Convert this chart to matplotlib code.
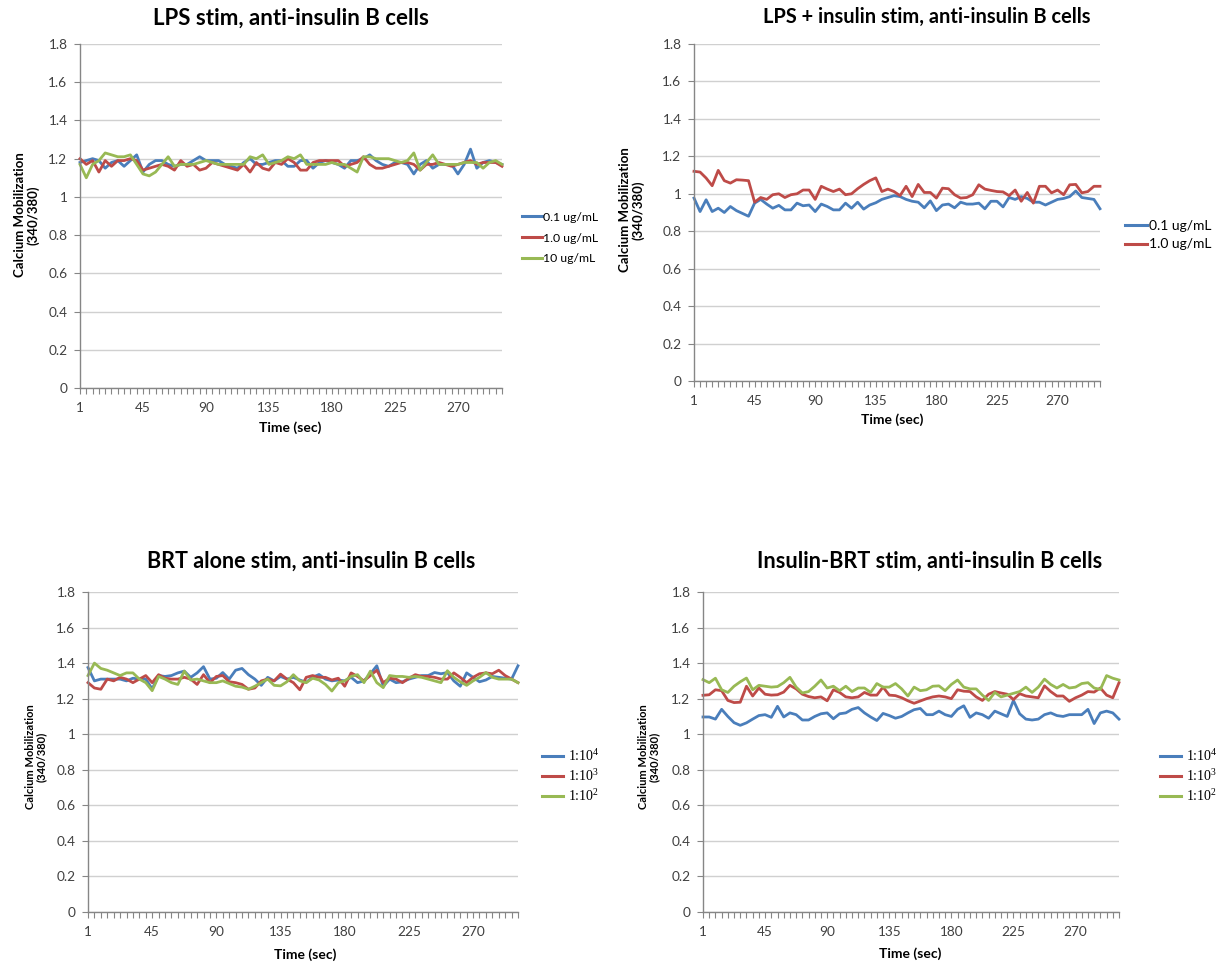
import matplotlib
matplotlib.use("Agg")
import matplotlib.pyplot as plt
import numpy as np

plt.rcParams['font.family'] = ['Lato', 'DejaVu Sans']
plt.rcParams['mathtext.fontset'] = 'custom'
plt.rcParams['mathtext.rm'] = 'Liberation Serif'
plt.rcParams['mathtext.it'] = 'Liberation Serif'

# ---- data -------------------------------------------------------------
time_labels = ['1', '45', '90', '135', '180', '225', '270']
y_labels = ['0', '0.2', '0.4', '0.6', '0.8', '1', '1.2', '1.4', '1.6', '1.8']

lps_labels = ['0.1 ug/mL', '1.0 ug/mL', '10 ug/mL']
brt_labels = ['1:10$^4$', '1:10$^3$', '1:10$^2$']

# LPS stim
lps_01 = [1.18, 1.19, 1.20, 1.19, 1.15, 1.18, 1.19, 1.16, 1.19, 1.22,
          1.13, 1.17, 1.19, 1.19, 1.17, 1.16, 1.17, 1.17, 1.19, 1.21,
          1.19, 1.19, 1.19, 1.17, 1.16, 1.15, 1.18, 1.20, 1.17, 1.17,
          1.18, 1.19, 1.19, 1.16, 1.16, 1.19, 1.19, 1.15, 1.18, 1.19,
          1.18, 1.17, 1.15, 1.19, 1.19, 1.20, 1.22, 1.19, 1.17, 1.16,
          1.18, 1.18, 1.17, 1.12, 1.17, 1.19, 1.15, 1.17, 1.17, 1.17,
          1.12, 1.17, 1.25, 1.15, 1.18, 1.19, 1.18, 1.17]
lps_10 = [1.20, 1.17, 1.19, 1.13, 1.19, 1.16, 1.19, 1.19, 1.20, 1.19,
          1.14, 1.15, 1.16, 1.17, 1.16, 1.14, 1.19, 1.16, 1.17, 1.14,
          1.15, 1.18, 1.17, 1.16, 1.15, 1.14, 1.17, 1.13, 1.18, 1.15,
          1.14, 1.18, 1.17, 1.20, 1.18, 1.14, 1.14, 1.18, 1.19, 1.19,
          1.19, 1.19, 1.16, 1.17, 1.18, 1.21, 1.17, 1.15, 1.15, 1.16,
          1.17, 1.18, 1.18, 1.17, 1.14, 1.17, 1.17, 1.18, 1.17, 1.16,
          1.17, 1.18, 1.19, 1.17, 1.18, 1.18, 1.18, 1.16]
lps_100 = [1.17, 1.10, 1.17, 1.19, 1.23, 1.22, 1.21, 1.21, 1.22, 1.17,
           1.12, 1.11, 1.13, 1.17, 1.21, 1.16, 1.17, 1.17, 1.17, 1.18,
           1.19, 1.18, 1.17, 1.17, 1.17, 1.17, 1.17, 1.21, 1.20, 1.22,
           1.17, 1.18, 1.19, 1.21, 1.20, 1.22, 1.17, 1.17, 1.17, 1.17,
           1.18, 1.17, 1.17, 1.15, 1.13, 1.21, 1.21, 1.20, 1.20, 1.20,
           1.19, 1.18, 1.19, 1.23, 1.14, 1.18, 1.22, 1.17, 1.17, 1.17,
           1.17, 1.18, 1.18, 1.18, 1.15, 1.18, 1.19, 1.17]

# LPS + insulin stim
lpsins_01 = [0.977, 0.905, 0.968, 0.905, 0.923, 0.900, 0.932, 0.910, 0.895, 0.880,
             0.950, 0.970, 0.945, 0.923, 0.938, 0.914, 0.914, 0.950, 0.936, 0.940,
             0.905, 0.945, 0.932, 0.914, 0.914, 0.950, 0.923, 0.955, 0.918, 0.940,
             0.952, 0.970, 0.980, 0.990, 0.985, 0.970, 0.960, 0.955, 0.925, 0.962,
             0.910, 0.940, 0.945, 0.925, 0.955, 0.945, 0.945, 0.950, 0.920, 0.960,
             0.960, 0.930, 0.980, 0.970, 0.985, 0.975, 0.955, 0.955, 0.940, 0.955,
             0.970, 0.975, 0.985, 1.015, 0.980, 0.975, 0.970, 0.920]
lpsins_10 = [1.120, 1.116, 1.084, 1.043, 1.125, 1.070, 1.057, 1.075, 1.073, 1.070,
             0.955, 0.980, 0.970, 0.995, 1.000, 0.980, 0.995, 1.000, 1.020, 1.020,
             0.970, 1.040, 1.025, 1.012, 1.025, 0.995, 1.000, 1.027, 1.050, 1.070,
             1.085, 1.012, 1.025, 1.012, 0.990, 1.040, 0.985, 1.050, 1.007, 1.007,
             0.977, 1.030, 1.027, 0.995, 0.977, 0.980, 0.995, 1.048, 1.025, 1.018,
             1.012, 1.010, 0.990, 1.020, 0.960, 1.007, 0.950, 1.040, 1.040, 1.005,
             1.020, 0.995, 1.048, 1.050, 1.005, 1.012, 1.040, 1.040]

# BRT alone stim
brt_1e4 = [1.375, 1.300, 1.310, 1.310, 1.310, 1.310, 1.300, 1.315, 1.310, 1.310,
           1.255, 1.330, 1.325, 1.330, 1.345, 1.355, 1.320, 1.345, 1.380, 1.310,
           1.315, 1.347, 1.310, 1.360, 1.370, 1.335, 1.310, 1.275, 1.320, 1.300,
           1.325, 1.310, 1.320, 1.305, 1.292, 1.320, 1.336, 1.310, 1.300, 1.305,
           1.300, 1.320, 1.290, 1.300, 1.340, 1.385, 1.270, 1.310, 1.290, 1.295,
           1.310, 1.320, 1.330, 1.330, 1.347, 1.340, 1.347, 1.300, 1.270, 1.345,
           1.320, 1.295, 1.305, 1.325, 1.320, 1.315, 1.310, 1.385]
brt_1e3 = [1.290, 1.260, 1.253, 1.310, 1.300, 1.320, 1.310, 1.290, 1.310, 1.330,
           1.290, 1.335, 1.315, 1.310, 1.310, 1.320, 1.310, 1.280, 1.335, 1.290,
           1.325, 1.330, 1.295, 1.290, 1.280, 1.253, 1.260, 1.300, 1.310, 1.300,
           1.338, 1.310, 1.290, 1.250, 1.320, 1.330, 1.320, 1.320, 1.305, 1.315,
           1.270, 1.345, 1.325, 1.300, 1.330, 1.360, 1.290, 1.315, 1.310, 1.290,
           1.315, 1.335, 1.325, 1.325, 1.320, 1.310, 1.310, 1.345, 1.320, 1.290,
           1.320, 1.340, 1.345, 1.340, 1.360, 1.330, 1.310, 1.290]
brt_1e2 = [1.330, 1.400, 1.370, 1.360, 1.345, 1.330, 1.345, 1.345, 1.310, 1.290,
           1.245, 1.325, 1.310, 1.290, 1.280, 1.355, 1.305, 1.310, 1.300, 1.290,
           1.290, 1.300, 1.285, 1.270, 1.265, 1.253, 1.270, 1.290, 1.310, 1.275,
           1.272, 1.295, 1.335, 1.300, 1.290, 1.315, 1.305, 1.280, 1.243, 1.290,
           1.300, 1.325, 1.335, 1.290, 1.355, 1.290, 1.262, 1.330, 1.325, 1.325,
           1.320, 1.325, 1.320, 1.310, 1.300, 1.290, 1.357, 1.320, 1.295, 1.275,
           1.300, 1.320, 1.347, 1.320, 1.310, 1.310, 1.310, 1.290]

# Insulin-BRT stim
insbrt_1e4 = [1.097, 1.097, 1.085, 1.140, 1.100, 1.065, 1.050, 1.064, 1.085, 1.105,
              1.110, 1.095, 1.157, 1.097, 1.120, 1.110, 1.080, 1.080, 1.100, 1.115,
              1.120, 1.087, 1.115, 1.120, 1.140, 1.150, 1.120, 1.097, 1.077, 1.117,
              1.105, 1.090, 1.100, 1.120, 1.138, 1.145, 1.110, 1.110, 1.130, 1.110,
              1.100, 1.140, 1.160, 1.095, 1.120, 1.110, 1.090, 1.130, 1.115, 1.100,
              1.190, 1.115, 1.085, 1.080, 1.085, 1.110, 1.120, 1.105, 1.100, 1.110,
              1.110, 1.110, 1.140, 1.060, 1.120, 1.130, 1.120, 1.085]
insbrt_1e3 = [1.219, 1.222, 1.250, 1.245, 1.190, 1.178, 1.180, 1.270, 1.215, 1.260,
              1.225, 1.220, 1.222, 1.237, 1.275, 1.255, 1.225, 1.212, 1.205, 1.210,
              1.188, 1.250, 1.235, 1.210, 1.205, 1.210, 1.235, 1.220, 1.220, 1.265,
              1.220, 1.217, 1.205, 1.188, 1.174, 1.187, 1.200, 1.210, 1.215, 1.210,
              1.200, 1.250, 1.242, 1.240, 1.210, 1.190, 1.225, 1.240, 1.232, 1.225,
              1.195, 1.228, 1.215, 1.210, 1.205, 1.272, 1.240, 1.215, 1.215, 1.185,
              1.205, 1.220, 1.240, 1.237, 1.260, 1.220, 1.205, 1.290]
insbrt_1e2 = [1.307, 1.290, 1.315, 1.250, 1.235, 1.270, 1.295, 1.316, 1.250, 1.275,
              1.270, 1.265, 1.268, 1.290, 1.320, 1.265, 1.232, 1.240, 1.270, 1.305,
              1.260, 1.270, 1.245, 1.270, 1.240, 1.260, 1.260, 1.235, 1.285, 1.265,
              1.265, 1.285, 1.255, 1.215, 1.265, 1.245, 1.250, 1.270, 1.272, 1.245,
              1.280, 1.305, 1.265, 1.255, 1.255, 1.220, 1.190, 1.235, 1.210, 1.220,
              1.230, 1.240, 1.265, 1.235, 1.265, 1.310, 1.280, 1.260, 1.280, 1.260,
              1.265, 1.285, 1.290, 1.260, 1.252, 1.330, 1.315, 1.305]

# ---- styling ------------------------------------------------------------
COLORS = ['#4A7EBB', '#BE4B48', '#98B954']
AXIS_GRAY = '#868686'
GRID_GRAY = '#D0D0D0'
TICK_TEXT = '#404040'

W, H = 1223, 964
fig = plt.figure(figsize=(W / 100, H / 100), dpi=100)


def px_axes(x0, x1, y0, y1):
    """Create axes from pixel bounds (left, right, top, bottom)."""
    return fig.add_axes([x0 / W, 1 - y1 / H, (x1 - x0) / W, (y1 - y0) / H])


def style_axes(ax, n):
    ax.set_xlim(0, n - 1)
    ax.set_ylim(0, 1.8)
    ax.set_yticks(np.linspace(0, 1.8, 10))
    ax.set_yticklabels(y_labels)
    ax.set_xticks(np.arange(0, n, 10)[:len(time_labels)])
    ax.set_xticklabels(time_labels)
    ax.set_xticks(np.arange(n), minor=True)
    ax.yaxis.grid(True, color=GRID_GRAY, lw=1.0)
    ax.set_axisbelow(True)
    for s in ('top', 'right'):
        ax.spines[s].set_visible(False)
    for s in ('left', 'bottom'):
        ax.spines[s].set_color(AXIS_GRAY)
        ax.spines[s].set_linewidth(1.0)
    ax.tick_params(axis='x', which='both', direction='out', length=4,
                   color=AXIS_GRAY, width=0.8)
    ax.tick_params(axis='x', which='major', pad=6, labelsize=9.8,
                   labelcolor=TICK_TEXT)
    ax.tick_params(axis='y', which='major', direction='out', length=4,
                   color=AXIS_GRAY, width=0.8, pad=5, labelsize=9.8,
                   labelcolor=TICK_TEXT)


def draw_panel(bounds, series, labels, title, title_xy, title_size, ylab_xy,
               ylab_size, xlab_xy, leg_xy, leg_font, leg_size, leg_spacing,
               leg_pad, leg_handle=1.6):
    ax = px_axes(*bounds)
    n = len(series[0])
    x = np.arange(n)
    for vals, lab, c in zip(series, labels, COLORS):
        ax.plot(x, vals, color=c, lw=2.0, label=lab, solid_joinstyle='round',
                clip_on=False)
    style_axes(ax, n)
    fig.text(title_xy[0] / W, 1 - title_xy[1] / H, title, ha='center',
             va='center', fontsize=title_size, fontweight='bold')
    fig.text(ylab_xy[0] / W, 1 - ylab_xy[1] / H,
             'Calcium Mobilization\n(340/380)', rotation=90, ha='center',
             va='center', multialignment='center', fontsize=ylab_size,
             fontweight='bold', linespacing=1.05)
    fig.text(xlab_xy[0] / W, 1 - xlab_xy[1] / H, 'Time (sec)', ha='center',
             va='center', fontsize=10, fontweight='bold')
    leg = ax.legend(loc='center left',
                    bbox_to_anchor=(leg_xy[0] / W, 1 - leg_xy[1] / H),
                    bbox_transform=fig.transFigure, frameon=False,
                    borderpad=0, borderaxespad=0, handlelength=leg_handle,
                    handletextpad=leg_pad, labelspacing=leg_spacing,
                    prop={'family': leg_font, 'size': leg_size})
    for line in leg.get_lines():
        line.set_linewidth(2.2)
    return ax


draw_panel((80, 502, 44, 388), [lps_01, lps_10, lps_100], lps_labels,
           'LPS stim, anti-insulin B cells', (291, 18), 16, (27, 215), 9.5,
           (290, 428), (522, 238), ['Lato', 'DejaVu Sans'], 8.8, 0.8, 0.15)

draw_panel((694, 1100, 44, 381), [lpsins_01, lpsins_10], lps_labels[:2],
           'LPS + insulin stim, anti-insulin B cells', (927, 17), 14.4,
           (632, 210), 9.5, (892, 420), (1125, 235), ['Lato', 'DejaVu Sans'],
           10, 0.5, 0.15)

draw_panel((88, 518, 592, 912), [brt_1e4, brt_1e3, brt_1e2], brt_labels,
           'BRT alone stim, anti-insulin B cells', (311, 561), 15.5, (36, 757),
           8, (305, 955), (542, 776), ['Liberation Serif'], 10, 0.3, 0.4, 1.5)

draw_panel((703, 1119, 592, 912), [insbrt_1e4, insbrt_1e3, insbrt_1e2],
           brt_labels, 'Insulin-BRT stim, anti-insulin B cells', (930, 561),
           15.6, (649, 757), 8, (910, 954), (1160, 776), ['Liberation Serif'],
           10, 0.3, 0.4, 1.5)

fig.savefig('out.png', dpi=100)
